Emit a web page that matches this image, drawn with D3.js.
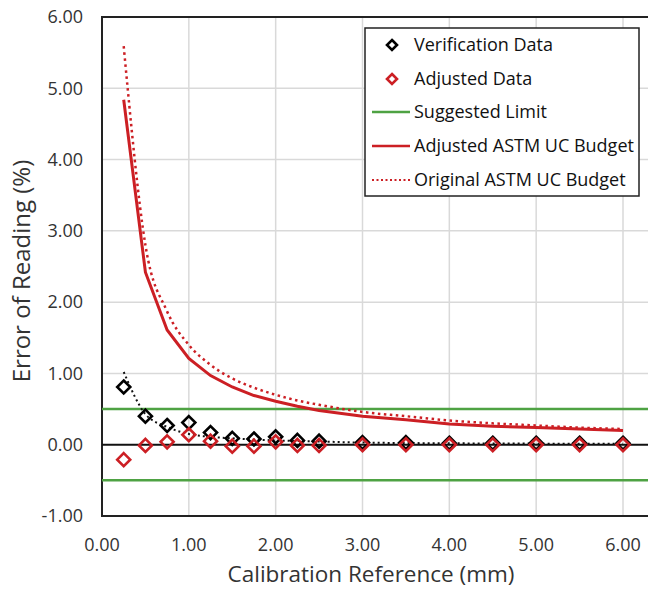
<!DOCTYPE html>
<html><head><meta charset="utf-8">
<script src="https://cdn.jsdelivr.net/npm/d3@7"></script>
<style>body{margin:0;background:#fff;overflow:hidden}svg{display:block}text{font-family:"Open Sans",sans-serif}</style>
</head><body>
<script>
const refX = [0.25,0.5,0.75,1.0,1.25,1.5,1.75,2.0,2.25,2.5,3.0,3.5,4.0,4.5,5.0,5.5,6.0];
const verification = [0.81,0.40,0.27,0.31,0.17,0.09,0.08,0.11,0.06,0.05,0.03,0.03,0.02,0.02,0.02,0.02,0.02];
const adjusted = [-0.21,-0.01,0.04,0.14,0.05,-0.02,-0.02,0.04,-0.01,-0.01,0.0,0.0,0.0,0.0,0.0,0.0,0.0];
const adjustedBudget = [4.84,2.42,1.61,1.21,0.97,0.81,0.69,0.61,0.54,0.48,0.40,0.35,0.29,0.26,0.24,0.22,0.20];
const originalBudget = [5.59,2.80,1.87,1.40,1.12,0.93,0.80,0.70,0.62,0.56,0.46,0.40,0.34,0.30,0.27,0.24,0.22];
const trendX = [0.25,0.5,0.75,1.0,1.25,1.5,2.0,2.5,3.0,4.0,5.0,6.0];
const trendY = [1.02,0.43,0.25,0.15,0.11,0.09,0.06,0.045,0.03,0.02,0.015,0.012];
const limitValue = 0.5;
const xTicks = [0,1,2,3,4,5,6];
const yTicks = [-1,0,1,2,3,4,5,6];
const legendLabels = ["Verification Data","Adjusted Data","Suggested Limit","Adjusted ASTM UC Budget","Original ASTM UC Budget"];

const W=648,H=589;
const L=102,T=17,R=662,B=516;
const svg=d3.select("body").append("svg").attr("width",W).attr("height",H);
const x=d3.scaleLinear().domain([0,6]).range([L,623]);
const y=d3.scaleLinear().domain([-1,6]).range([B,T]);
const grey="#d9d9d9", red="#cc1f24", green="#4ea243", txt="#333";
const fmt=d=>d3.format(".2f")(d).replace("\u2212","-");

// gridlines
svg.append("g").selectAll("line").data(yTicks.filter(d=>d!==-1&&d!==0&&d!==6)).join("line")
  .attr("x1",L).attr("x2",R).attr("y1",d=>y(d)).attr("y2",d=>y(d)).attr("stroke",grey).attr("stroke-width",1.5);
svg.append("g").selectAll("line").data(xTicks.filter(d=>d>0)).join("line")
  .attr("x1",d=>x(d)).attr("x2",d=>x(d)).attr("y1",T).attr("y2",B).attr("stroke",grey).attr("stroke-width",1.5);

// plot border
svg.append("rect").attr("x",L).attr("y",T).attr("width",R-L).attr("height",B-T)
  .attr("fill","none").attr("stroke","#222").attr("stroke-width",2);

// zero line
svg.append("line").attr("x1",L).attr("x2",R).attr("y1",y(0)).attr("y2",y(0)).attr("stroke","#111").attr("stroke-width",2);
// limits
[limitValue,-limitValue].forEach(v=>{
  svg.append("line").attr("x1",L).attr("x2",R).attr("y1",y(v)).attr("y2",y(v)).attr("stroke",green).attr("stroke-width",2.5);
});

const line=d3.line().x(d=>x(d[0])).y(d=>y(d[1]));
// original budget dotted
svg.append("path").datum(refX.map((v,i)=>[v,originalBudget[i]]))
  .attr("d",line.curve(d3.curveMonotoneX)).attr("fill","none").attr("stroke",red).attr("stroke-width",2.5)
  .attr("stroke-dasharray","2.5,3.5");
// adjusted budget solid
svg.append("path").datum(refX.map((v,i)=>[v,adjustedBudget[i]]))
  .attr("d",line.curve(d3.curveLinear)).attr("fill","none").attr("stroke",red).attr("stroke-width",3);
// trendline black dotted
svg.append("path").datum(trendX.map((v,i)=>[v,trendY[i]]))
  .attr("d",line.curve(d3.curveMonotoneX)).attr("fill","none").attr("stroke","#111").attr("stroke-width",2)
  .attr("stroke-dasharray","2,3");

const diamond=s=>`M0,${-s}L${s},0L0,${s}L${-s},0Z`;
svg.append("g").selectAll("path").data(refX.map((v,i)=>[v,verification[i]])).join("path")
  .attr("transform",d=>`translate(${x(d[0])},${y(d[1])})`).attr("d",diamond(6.5))
  .attr("fill","none").attr("stroke","#000").attr("stroke-width",2.6);
svg.append("g").selectAll("path").data(refX.map((v,i)=>[v,adjusted[i]])).join("path")
  .attr("transform",d=>`translate(${x(d[0])},${y(d[1])})`).attr("d",diamond(6.5))
  .attr("fill","none").attr("stroke",red).attr("stroke-width",2.6);

// tick labels
svg.append("g").selectAll("text").data(yTicks).join("text")
  .attr("x",83).attr("y",d=>y(d)).attr("dy","0.35em").attr("text-anchor","end")
  .attr("font-size",18).attr("fill",txt).text(fmt);
svg.append("g").selectAll("text").data(xTicks).join("text")
  .attr("x",d=>x(d)).attr("y",545).attr("dy","0.35em").attr("text-anchor","middle")
  .attr("font-size",18).attr("fill",txt).text(fmt);

// axis titles
svg.append("text").attr("x",371).attr("y",582).attr("text-anchor","middle")
  .attr("font-size",22.5).attr("fill",txt).text("Calibration Reference (mm)");
svg.append("text").attr("transform","translate(22,271) rotate(-90)").attr("dy","0.35em").attr("text-anchor","middle")
  .attr("font-size",24).attr("fill",txt).text("Error of Reading (%)");

// legend
const lg=svg.append("g");
lg.append("rect").attr("x",365).attr("y",28).attr("width",274).attr("height",168)
  .attr("fill","#fff").attr("stroke","#222").attr("stroke-width",1.5);
const rowY=[45,79,112,146,180];
legendLabels.forEach((lab,i)=>{
  const yy=rowY[i];
  if(i===0||i===1){
    lg.append("path").attr("transform",`translate(392,${yy})`).attr("d",diamond(5))
      .attr("fill","none").attr("stroke",i===0?"#000":red).attr("stroke-width",2.6);
  } else {
    const ln=lg.append("line").attr("x1",372).attr("x2",410).attr("y1",yy).attr("y2",yy)
      .attr("stroke",i===2?green:red).attr("stroke-width",i===4?2:2.5);
    if(i===4) ln.attr("stroke-dasharray","2,2.5");
  }
  lg.append("text").attr("x",414).attr("y",yy).attr("dy","0.35em").attr("font-size",18)
    .attr("fill","#111").text(lab);
});
</script>
</body></html>
